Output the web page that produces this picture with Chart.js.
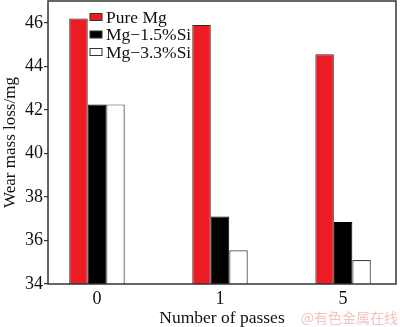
<!DOCTYPE html>
<html>
<head>
<meta charset="utf-8">
<script src="https://cdn.jsdelivr.net/npm/chart.js@4"></script>
<style>
  html, body { margin: 0; padding: 0; background: #fff; }
  #wrap { width: 400px; height: 327px; position: relative; }
</style>
</head>
<body>
<div id="wrap"><canvas id="c"></canvas></div>
<script>
// data
var passLabels = ['0', '1', '5'];
var passPos = [0, 1, 2];
var seriesNames = ['Pure Mg', 'Mg\u22121.5%Si', 'Mg\u22123.3%Si'];
var pureMg = [46.2, 45.9, 44.55];
var mg15Si = [42.25, 37.1, 36.85];
var mg33Si = [42.25, 35.55, 35.1];
var yTicks = [34, 36, 38, 40, 42, 44, 46];

var serif = "'Liberation Serif', 'Times New Roman', serif";

function pts(vals) {
    return vals.map(function (v, i) { return {x: passPos[i], y: v}; });
}

// plot frame + legend inside the plot area
var framePlugin = {
    id: 'frame',
    afterDraw: function (chart) {
        var ctx = chart.ctx, a = chart.chartArea;
        ctx.save();
        ctx.strokeStyle = '#333';
        ctx.lineWidth = 1.5;
        ctx.strokeRect(a.left, a.top, a.right - a.left, a.bottom - a.top);

        var x = a.left + 42, y0 = a.top + 16;
        ctx.font = '17.5px ' + serif;
        ctx.textBaseline = 'middle';
        chart.data.datasets.forEach(function (ds, i) {
            var y = y0 + i * 17.5;
            ctx.fillStyle = ds.backgroundColor;
            ctx.fillRect(x, y - 3.5, 12, 7);
            ctx.lineWidth = 1;
            ctx.strokeStyle = '#333';
            ctx.strokeRect(x, y - 3.5, 12, 7);
            ctx.fillStyle = '#111';
            ctx.fillText(ds.label, x + 16, y + 1);
        });

        ctx.font = '14px "Noto Sans CJK SC", sans-serif';
        ctx.fillStyle = '#f3c2c2';
        ctx.textAlign = 'right';
        ctx.fillText('@\u6709\u8272\u91d1\u5c5e\u5728\u7ebf', 398, 318);
        ctx.restore();
    }
};

new Chart(document.getElementById('c'), {
    type: 'bar',
    data: {
        datasets: [
            {label: seriesNames[0], data: pts(pureMg), backgroundColor: '#ed1c24', borderColor: '#2a2a2a', borderWidth: 1},
            {label: seriesNames[1], data: pts(mg15Si), backgroundColor: '#000000', borderColor: '#000000', borderWidth: 1},
            {label: seriesNames[2], data: pts(mg33Si), backgroundColor: '#ffffff', borderColor: '#444444', borderWidth: 1.2}
        ]
    },
    options: {
        responsive: true,
        maintainAspectRatio: false,
        animation: false,
        layout: {padding: {top: 1, right: 4}},
        categoryPercentage: 0.451,
        barPercentage: 1,
        plugins: {
            legend: {display: false},
            tooltip: {enabled: false}
        },
        scales: {
            x: {
                type: 'linear',
                offset: false,
                min: -0.398,
                max: 2.43,
                afterBuildTicks: function (s) {
                    s.ticks = passPos.map(function (v) { return {value: v}; });
                },
                afterFit: function (s) {
                    s.height = 43;
                    s.paddingLeft = 0;
                    s.paddingRight = 0;
                },
                grid: {display: false, drawTicks: false},
                border: {display: false},
                ticks: {
                    color: '#111',
                    font: {family: serif, size: 18},
                    padding: 4,
                    maxRotation: 0,
                    callback: function (v) { return passLabels[passPos.indexOf(v)]; }
                },
                title: {
                    display: true,
                    text: 'Number of passes',
                    color: '#111',
                    font: {family: serif, size: 17.5, lineHeight: 1},
                    padding: {top: 0, bottom: 0}
                }
            },
            y: {
                min: 34,
                max: 47,
                afterBuildTicks: function (s) {
                    s.ticks = yTicks.map(function (v) { return {value: v}; });
                },
                afterFit: function (s) {
                    s.width = 48;
                    s.paddingTop = 0;
                    s.paddingBottom = 0;
                },
                grid: {drawOnChartArea: false, drawTicks: true, tickLength: 4, color: '#333', lineWidth: 1.2},
                border: {display: false},
                ticks: {
                    color: '#111',
                    font: {family: serif, size: 18},
                    padding: 1
                },
                title: {
                    display: true,
                    text: 'Wear mass loss/mg',
                    color: '#111',
                    font: {family: serif, size: 17},
                    padding: {top: 0, bottom: 0}
                }
            }
        }
    },
    plugins: [framePlugin]
});
</script>
</body>
</html>
